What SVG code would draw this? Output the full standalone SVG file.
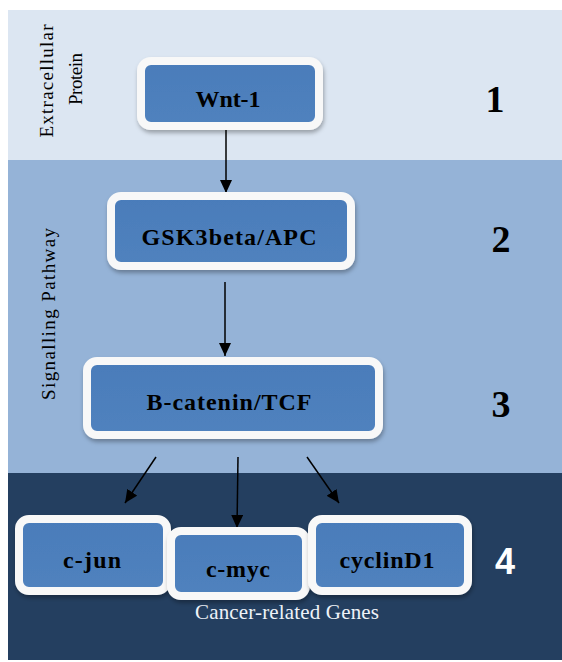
<svg xmlns="http://www.w3.org/2000/svg" width="562" height="662" viewBox="0 0 562 662">
<defs>
<filter id="sh" x="-10%" y="-10%" width="130%" height="140%">
<feDropShadow dx="1" dy="3" stdDeviation="2" flood-color="#000" flood-opacity="0.3"/>
</filter>
<linearGradient id="bf" x1="0" y1="0" x2="0" y2="1">
<stop offset="0" stop-color="#4a7cba"/>
<stop offset="1" stop-color="#5082be"/>
</linearGradient>
<marker id="ah" viewBox="0 0 13 12" refX="13" refY="6" markerWidth="13" markerHeight="12" markerUnits="userSpaceOnUse" orient="auto">
<path d="M0,0 L13,6 L0,12 z" fill="#000"/>
</marker>
</defs>
<style>
.box{fill:url(#bf);stroke:#f8f8f8;stroke-width:8;filter:url(#sh)}
.nt{font-family:"Liberation Serif",serif;font-weight:bold;font-size:24px;fill:#000;text-anchor:middle}
.num{font-family:"Liberation Serif",serif;font-weight:bold;font-size:38px;text-anchor:middle;fill:#000}
.side{font-family:"Liberation Serif",serif;font-size:19px;fill:#000;text-anchor:middle}
.con{stroke:#000;stroke-width:1.5;fill:none;marker-end:url(#ah)}
</style>
<rect width="562" height="662" fill="#fff"/>
<rect x="8" y="10" width="554" height="150" fill="#dce6f2"/>
<rect x="8" y="160" width="554" height="313" fill="#95b3d7"/>
<rect x="8" y="473" width="554" height="187" fill="#243f60"/>

<text class="side" transform="translate(53,81) rotate(-90)" textLength="113" lengthAdjust="spacing">Extracellular</text>
<text class="side" transform="translate(82,79) rotate(-90)" textLength="52" lengthAdjust="spacing">Protein</text>
<text class="side" transform="translate(55,314) rotate(-90)" textLength="172" lengthAdjust="spacing">Signalling Pathway</text>

<text class="num" x="495" y="112">1</text>
<text class="num" x="501" y="252">2</text>
<text class="num" x="501" y="417">3</text>
<text x="505" y="574" font-family="'Liberation Sans',sans-serif" font-weight="bold" font-size="36" fill="#fff" text-anchor="middle">4</text>
<text x="287" y="619" font-family="'Liberation Serif',serif" font-size="21" fill="#eef2f8" text-anchor="middle" textLength="184" lengthAdjust="spacing">Cancer-related Genes</text>

<g id="connectors">
<line class="con" x1="226" y1="130" x2="226" y2="193"/>
<line class="con" x1="225" y1="282" x2="225" y2="356"/>
<line class="con" x1="156" y1="457" x2="125" y2="503"/>
<line class="con" x1="238" y1="457" x2="237" y2="528"/>
<line class="con" x1="307" y1="457" x2="339" y2="503"/>
</g>

<g id="wnt1">
<rect class="box" x="141" y="61" width="178" height="65" rx="10"/>
<text class="nt" x="228" y="107" textLength="65" lengthAdjust="spacing">Wnt-1</text>
</g>
<g id="gsk3beta">
<rect class="box" x="111" y="196" width="240" height="70" rx="10"/>
<text class="nt" x="229" y="245" textLength="175" lengthAdjust="spacing">GSK3beta/APC</text>
</g>
<g id="bcatenin">
<rect class="box" x="87" y="361" width="292" height="74" rx="10"/>
<text class="nt" x="229" y="410" textLength="165" lengthAdjust="spacing">B-catenin/TCF</text>
</g>
<g id="cjun">
<rect class="box" x="19" y="519" width="148" height="72" rx="10"/>
<text class="nt" x="92" y="568" textLength="58" lengthAdjust="spacing">c-jun</text>
</g>
<g id="cmyc">
<rect class="box" x="171" y="531" width="135" height="65" rx="10"/>
<text class="nt" x="238" y="577" textLength="64" lengthAdjust="spacing">c-myc</text>
</g>
<g id="cyclind1">
<rect class="box" x="312" y="519" width="156" height="72" rx="10"/>
<text class="nt" x="387" y="568" textLength="95" lengthAdjust="spacing">cyclinD1</text>
</g>
</svg>
